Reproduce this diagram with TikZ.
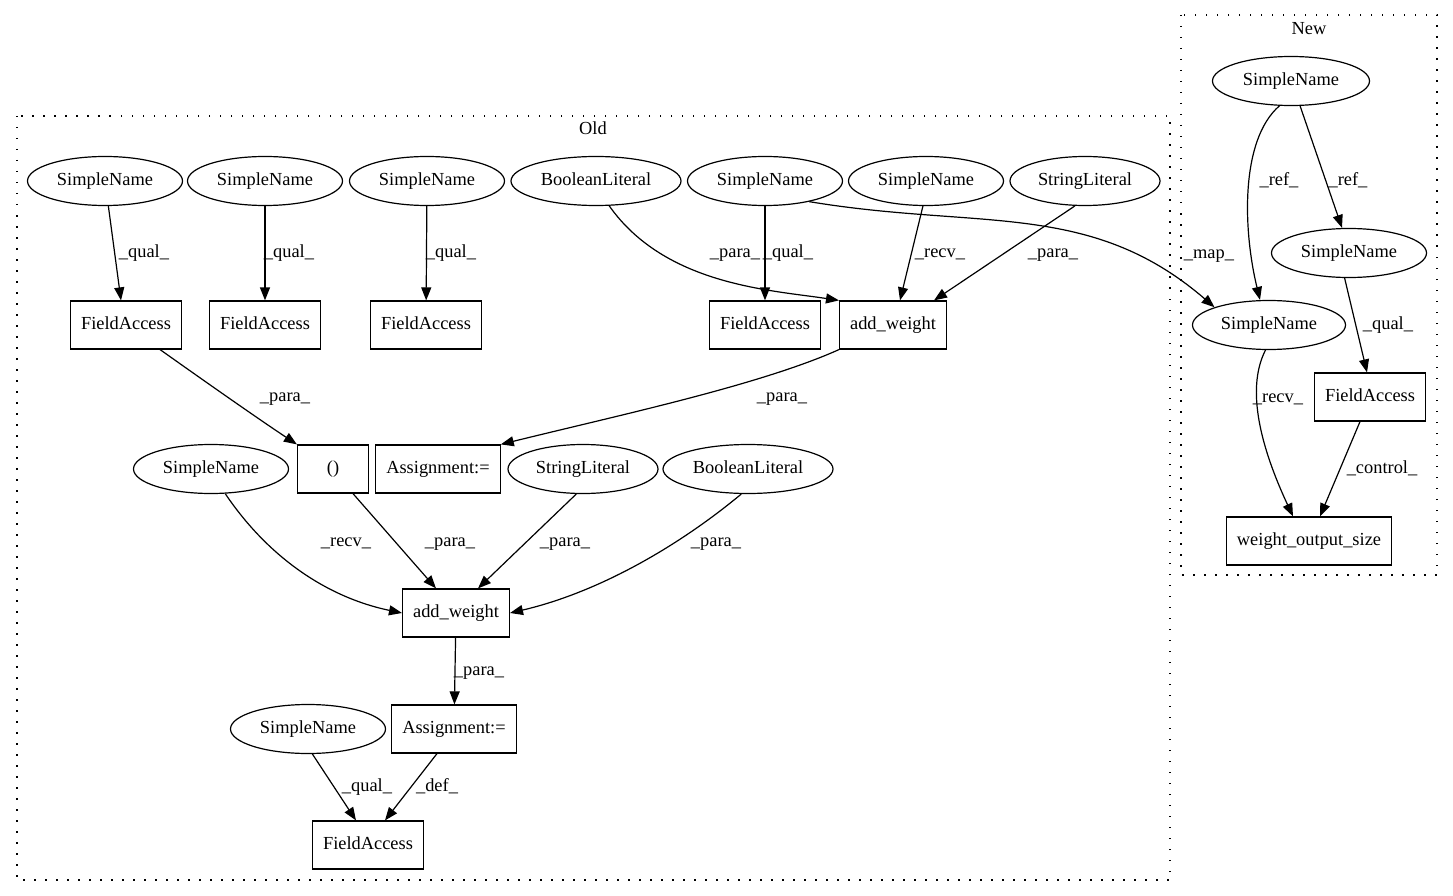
\documentclass[tikz,border=0pt]{standalone}
\usepackage{fontspec}
\setmainfont{Liberation Serif}
\usetikzlibrary{shapes.geometric,arrows.meta}
\begin{document}
\begin{tikzpicture}[x=1pt,y=-1pt,
  every node/.style={font=\fontsize{18.4}{22}\selectfont,text height=12.5pt,text depth=4pt},
  ell/.style={ellipse,draw,line width=1.2pt,minimum height=49,inner sep=0,minimum width=155},
  box/.style={rectangle,draw,line width=1.2pt,minimum height=48,minimum width=71,inner xsep=10.5,inner ysep=0},
  edge/.style={line width=1.2pt,-{Triangle[length=13pt,width=10pt]}},
  lbl/.style={inner sep=0},
  cluster/.style={line width=1.2pt,dash pattern=on 1.5pt off 9.5pt}]
\useasboundingbox (0,0) rectangle (1453,896);

% clusters
\draw[cluster] (17,116) rectangle (1170,880);
\node[lbl] (oldlbl) at (593,130) {Old};
\draw[cluster] (1181,15) rectangle (1437,575);
\node[lbl] (newlbl) at (1309,30) {New};

% Old: row 1
\node[ell] (sna) at (105,181) {SimpleName};
\node[ell] (snb) at (265,181) {SimpleName};
\node[ell] (snc) at (427,181) {SimpleName};
\node[ell,minimum width=170] (bla) at (596,181) {BooleanLiteral};
\node[ell] (snd) at (765,181) {SimpleName};
\node[ell] (sne) at (926,181) {SimpleName};
\node[ell,minimum width=150] (sla) at (1085,181) {StringLiteral};
% row 2
\node[box] (faa) at (126,325) {FieldAccess};
\node[box] (fab) at (265,325) {FieldAccess};
\node[box] (fac) at (426,325) {FieldAccess};
\node[box] (fad) at (765,325) {FieldAccess};
\node[box] (awa) at (893,325) {add\_weight};
% row 3
\node[ell] (snf) at (211,469) {SimpleName};
\node[box] (par) at (333,469) {()};
\node[box] (asa) at (438,469) {Assignment:=};
\node[ell,minimum width=150] (slb) at (583,469) {StringLiteral};
\node[ell,minimum width=170] (blb) at (748,469) {BooleanLiteral};
% row 4
\node[box] (awb) at (456,613) {add\_weight};
% row 5
\node[ell] (sng) at (308,729) {SimpleName};
\node[box] (asb) at (454,729) {Assignment:=};
% row 6
\node[box] (fag) at (368,845) {FieldAccess};

% New
\node[ell,minimum width=157] (sn1) at (1291,81) {SimpleName};
\node[ell] (sn2) at (1349,253) {SimpleName};
\node[ell,minimum width=153] (sn3) at (1269,325) {SimpleName};
\node[box] (fan) at (1370,397) {FieldAccess};
\node[box] (wos) at (1309,541) {weight\_output\_size};

% edges Old
\draw[edge] (sna) -- (faa.north -| 121,0);
\node[lbl] (l1) at (144,253) {\_qual\_};
\draw[edge] (snb) -- (fab);
\node[lbl] (l2) at (289,253) {\_qual\_};
\draw[edge] (snc) -- (fac);
\node[lbl] (l3) at (451,253) {\_qual\_};
\draw[edge] (bla.-62) .. controls (665,285) and (770,290) .. (awa.north west);
\node[lbl] (l4) at (735,253) {\_para\_};
\draw[edge] (snd) -- (fad);
\node[lbl] (l5) at (788,253) {\_qual\_};
\draw[edge] (sne.-97) -- (awa.north -| 900,0);
\node[lbl] (l6) at (940,253) {\_recv\_};
\draw[edge] (sla.-112) -- (awa.north -| 934,0);
\node[lbl] (l7) at (1053,253) {\_para\_};
\draw[edge] (snd.-25) .. controls (980,230) and (1090,200) .. (sn3.north west);
\node[lbl] (l8) at (1209,254) {\_map\_};
\draw[edge] (awa.south west) .. controls (760,385) and (620,415) .. (asa.north east);
\node[lbl] (l9) at (782,397) {\_para\_};
\draw[edge] ([xshift=-22pt]faa.south east) .. controls (210,385) and (260,420) .. (par.north west);
\node[lbl] (l10) at (285,397) {\_para\_};
\draw[edge] (snf.-60) .. controls (270,560) and (330,598) .. (awb.west);
\node[lbl] (l11) at (346,542) {\_recv\_};
\draw[edge] ([xshift=20pt]par.south) -- ([xshift=-20pt]awb.north);
\node[lbl] (l12) at (450,542) {\_para\_};
\draw[edge] (slb.-105) -- ([xshift=22pt]awb.north);
\node[lbl] (l13) at (565,542) {\_para\_};
\draw[edge] (blb.-105) .. controls (680,545) and (600,592) .. (awb.east);
\node[lbl] (l14) at (716,542) {\_para\_};
\draw[edge] (awb) -- (asb);
\node[lbl] (l15) at (479,671) {\_para\_};
\draw[edge] (sng.-80) -- ([xshift=-12pt]fag.north);
\node[lbl] (l16) at (367,787) {\_qual\_};
\draw[edge] ([xshift=-17pt]asb.south) -- ([xshift=17pt]fag.north);
\node[lbl] (l17) at (437,787) {\_def\_};

% edges New
\draw[edge] (sn1.-70) -- (sn2.north -| 1342,0);
\node[lbl] (l18) at (1348,181) {\_ref\_};
\draw[edge] (sn1.-115) .. controls (1240,140) and (1243,230) .. (sn3.north -| 1260,0);
\node[lbl] (l19) at (1279,181) {\_ref\_};
\draw[edge] (sn2.-100) -- (fan.north -| 1367,0);
\node[lbl] (l20) at (1388,325) {\_qual\_};
\draw[edge] (sn3.-98) .. controls (1245,390) and (1262,450) .. (wos.north -| 1293,0);
\node[lbl] (l21) at (1278,398) {\_recv\_};
\draw[edge] (fan.south -| 1360,0) -- (wos.north -| 1320,0);
\node[lbl] (l22) at (1382,469) {\_control\_};
\end{tikzpicture}
\end{document}
